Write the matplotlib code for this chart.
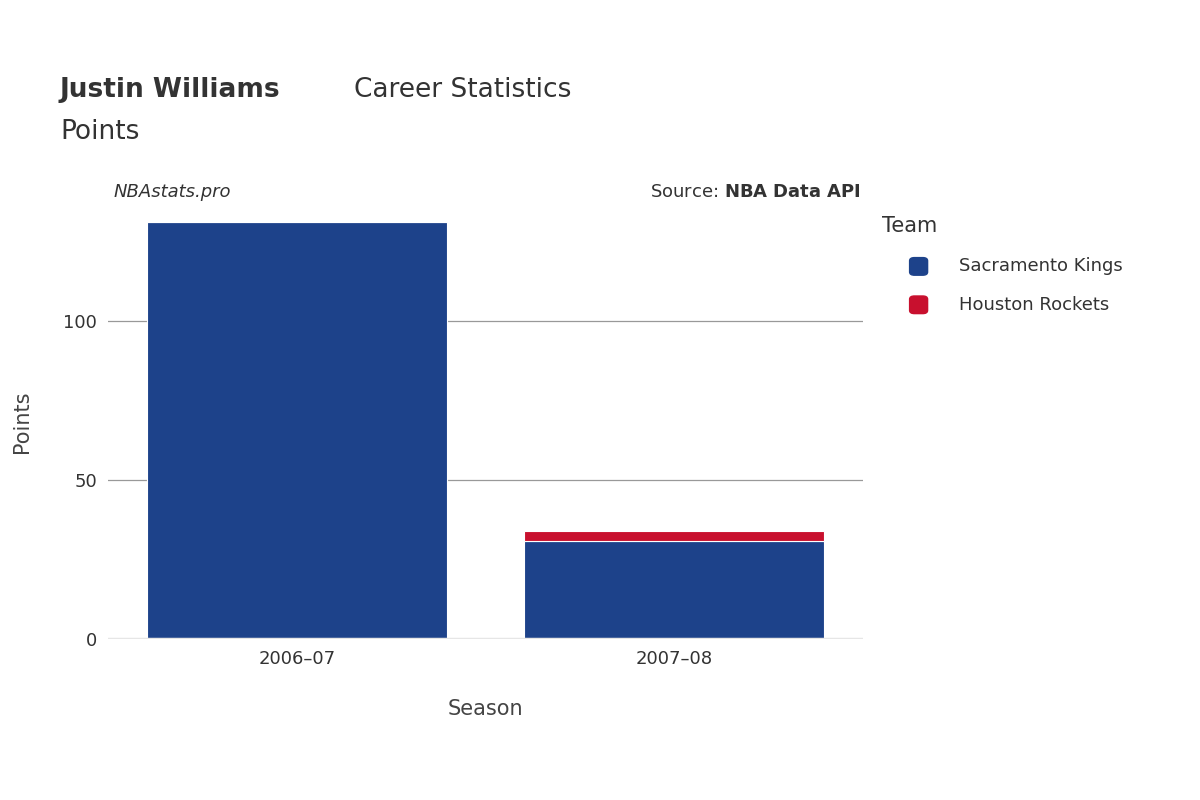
import matplotlib
matplotlib.use("Agg")
import matplotlib.pyplot as plt
import numpy as np

seasons = ["2006\u201307", "2007\u201308"]
sacramento = [131, 31]
houston = [0, 3]
teams = ["Sacramento Kings", "Houston Rockets"]
colors = ["#1d428a", "#c8102e"]

fig = plt.figure(figsize=(12, 8), dpi=100)
ax = fig.add_axes([0.09, 0.201, 0.629, 0.543])

x = np.arange(len(seasons))
ax.bar(x, sacramento, width=0.795, color=colors[0], edgecolor="white", linewidth=0.8, zorder=3)
ax.bar(x, houston, width=0.795, bottom=sacramento, color=colors[1], edgecolor="white", linewidth=0.8, zorder=3)

ax.set_xlim(-0.5, 1.5)
ax.set_ylim(0, 136.5)
ax.set_yticks([0, 50, 100])
ax.set_xticks(x)
ax.set_xticklabels(seasons)
ax.tick_params(axis="both", labelsize=13, colors="#444444", length=0, pad=8)
for lab in ax.get_xticklabels() + ax.get_yticklabels():
    lab.set_color("#333333")
ax.grid(axis="y", color="#999999", linewidth=0.9, zorder=0)
ax.axhline(0, color="#e6e6e6", linewidth=2.5, zorder=4)
for s in ax.spines.values():
    s.set_visible(False)

ax.set_xlabel("Season", fontsize=15, color="#444444", labelpad=22)
ax.set_ylabel("Points", fontsize=15, color="#444444", labelpad=22)

fig.text(0.05, 0.888, "Justin Williams", fontsize=19, fontweight="bold", color="#333333", va="center")
fig.text(0.295, 0.888, "Career Statistics", fontsize=19, color="#333333", va="center")
fig.text(0.05, 0.835, "Points", fontsize=19, color="#333333", va="center")
fig.text(0.095, 0.76, "NBAstats.pro", fontsize=13, style="italic", color="#333333", va="center")
fig.text(0.717, 0.76, "Source: $\\bf{NBA\\ Data\\ API}$", fontsize=13, color="#333333", va="center", ha="right")

fig.text(0.735, 0.717, "Team", fontsize=15, color="#333333", va="center")
for i, (t, c) in enumerate(zip(teams, colors)):
    yy = 0.667 - i * 0.048
    fig.patches.append(matplotlib.patches.FancyBboxPatch((0.758, yy - 0.011), 0.015, 0.022,
        boxstyle="round,pad=0,rounding_size=0.004", transform=fig.transFigure, color=c))
    fig.text(0.799, yy, t, fontsize=13, color="#333333", va="center")

fig.savefig("out.png")
